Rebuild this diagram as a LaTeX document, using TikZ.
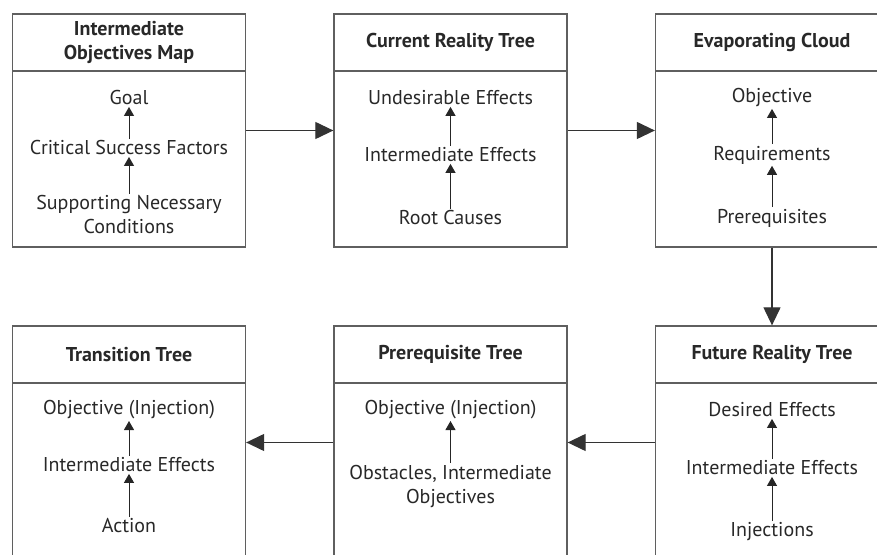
\documentclass[tikz,border=0pt]{standalone}
\usepackage{fontspec}
\setmainfont{PT Sans}
\usetikzlibrary{arrows.meta,positioning}

\definecolor{framegray}{RGB}{95,95,95}
\definecolor{textgray}{RGB}{40,40,40}

\newcommand{\stagefont}{\fontsize{20pt}{24pt}\selectfont}

\tikzset{
  stage/.style={draw=framegray, line width=1.3pt, minimum width=233pt, minimum height=233pt, inner sep=0pt},
  stagetitle/.style={draw=framegray, line width=1.3pt, minimum width=233pt, minimum height=57pt, font=\stagefont\bfseries, text=textgray, align=center, anchor=north, inner sep=0pt},
  item/.style={text=textgray, align=center, inner sep=1.5pt},
  flow/.style={-{Triangle[length=9pt,width=10pt]}, line width=1pt, draw=black!85},
  link/.style={-{Triangle[length=18pt,width=17pt]}, line width=1.2pt, draw=black!80}
}

\begin{document}
\begin{tikzpicture}[x=1pt,y=1pt,font=\stagefont]
    \useasboundingbox (0,0) rectangle (877,554);
    \clip (0,0) rectangle (877,554);
    % frames
    \node[stage] (iom) at (129,423.5) {};
    \node[stage] (crt) at (450.5,423.5) {};
    \node[stage] (ec) at (772,423.5) {};
    \node[stage] (tt) at (129,111.5) {};
    \node[stage] (prt) at (450.5,111.5) {};
    \node[stage] (frt) at (772,111.5) {};
    % titles
    \node[stagetitle] (iomt) at (iom.north) {Intermediate\\Objectives Map};
    \node[stagetitle] (crtt) at (crt.north) {Current Reality Tree};
    \node[stagetitle] (ect) at (ec.north) {Evaporating Cloud};
    \node[stagetitle] (ttt) at (tt.north) {Transition Tree};
    \node[stagetitle] (prtt) at (prt.north) {Prerequisite Tree};
    \node[stagetitle] (frtt) at (frt.north) {Future Reality Tree};
    % intermediate objectives map
    \node[item] (goal) at (129,456) {Goal};
    \node[item] (csf) at (129,406) {Critical Success Factors};
    \node[item] (snc) at (129,339) {Supporting Necessary\\Conditions};
    \draw[flow] (snc) -- (csf);
    \draw[flow] (csf) -- (goal);
    % current reality tree
    \node[item] (ude) at (450.5,456) {Undesirable Effects};
    \node[item] (crtie) at (450.5,399) {Intermediate Effects};
    \node[item] (rc) at (450.5,336) {Root Causes};
    \draw[flow] (rc) -- (crtie);
    \draw[flow] (crtie) -- (ude);
    % evaporating cloud
    \node[item] (obj) at (772,456) {Objective};
    \node[item] (req) at (772,399) {Requirements};
    \node[item] (pre) at (772,336) {Prerequisites};
    \draw[flow] (pre) -- (req);
    \draw[flow] (req) -- (obj);
    % transition tree
    \node[item] (ttobj) at (129,144) {Objective (Injection)};
    \node[item] (ttie) at (129,89) {Intermediate Effects};
    \node[item] (act) at (129,28) {Action};
    \draw[flow] (act) -- (ttie);
    \draw[flow] (ttie) -- (ttobj);
    % prerequisite tree
    \node[item] (prtobj) at (450.5,144) {Objective (Injection)};
    \node[item] (obst) at (450.5,68) {Obstacles, Intermediate\\Objectives};
    \draw[flow] (obst) -- (prtobj);
    % future reality tree
    \node[item] (de) at (772,144) {Desired Effects};
    \node[item] (frtie) at (772,86) {Intermediate Effects};
    \node[item] (inj) at (772,22) {Injections};
    \draw[flow] (inj) -- (frtie);
    \draw[flow] (frtie) -- (de);
    % links between stages
    \draw[link] (iom) -- (crt);
    \draw[link] (crt) -- (ec);
    \draw[link] (ec) -- (frt);
    \draw[link] (frt) -- (prt);
    \draw[link] (prt) -- (tt);
\end{tikzpicture}
\end{document}
